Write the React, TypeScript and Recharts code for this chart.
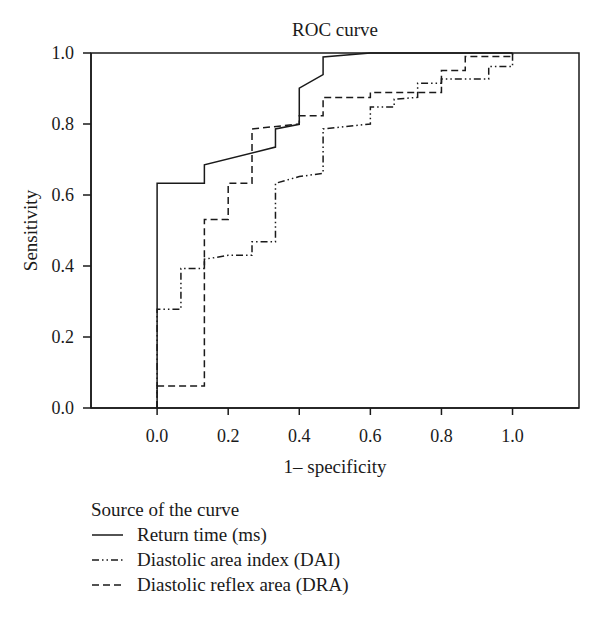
import { LineChart, Line, XAxis, YAxis, ReferenceArea } from "recharts"

document.body.style.margin = "0"

type Pt = { x: number; y: number }

const xTicks = [0, 0.2, 0.4, 0.6, 0.8, 1.0]
const yTicks = [0, 0.2, 0.4, 0.6, 0.8, 1.0]

const returnTime: Pt[] = [
	{ x: 0, y: 0 },
	{ x: 0, y: 0.633 },
	{ x: 0.133, y: 0.633 },
	{ x: 0.133, y: 0.685 },
	{ x: 0.333, y: 0.735 },
	{ x: 0.333, y: 0.786 },
	{ x: 0.4, y: 0.799 },
	{ x: 0.4, y: 0.901 },
	{ x: 0.467, y: 0.939 },
	{ x: 0.467, y: 0.989 },
	{ x: 0.6, y: 1.0 },
	{ x: 1.0, y: 1.0 },
]

const dai: Pt[] = [
	{ x: 0, y: 0 },
	{ x: 0, y: 0.278 },
	{ x: 0.067, y: 0.278 },
	{ x: 0.067, y: 0.393 },
	{ x: 0.133, y: 0.393 },
	{ x: 0.133, y: 0.419 },
	{ x: 0.2, y: 0.43 },
	{ x: 0.267, y: 0.43 },
	{ x: 0.267, y: 0.468 },
	{ x: 0.333, y: 0.468 },
	{ x: 0.333, y: 0.633 },
	{ x: 0.4, y: 0.652 },
	{ x: 0.467, y: 0.661 },
	{ x: 0.467, y: 0.786 },
	{ x: 0.6, y: 0.8 },
	{ x: 0.6, y: 0.848 },
	{ x: 0.667, y: 0.848 },
	{ x: 0.667, y: 0.87 },
	{ x: 0.733, y: 0.875 },
	{ x: 0.733, y: 0.915 },
	{ x: 0.8, y: 0.915 },
	{ x: 0.8, y: 0.927 },
	{ x: 0.933, y: 0.927 },
	{ x: 0.933, y: 0.962 },
	{ x: 1.0, y: 0.962 },
	{ x: 1.0, y: 1.0 },
]

const dra: Pt[] = [
	{ x: 0, y: 0 },
	{ x: 0, y: 0.062 },
	{ x: 0.133, y: 0.062 },
	{ x: 0.133, y: 0.531 },
	{ x: 0.2, y: 0.531 },
	{ x: 0.2, y: 0.633 },
	{ x: 0.267, y: 0.633 },
	{ x: 0.267, y: 0.786 },
	{ x: 0.4, y: 0.8 },
	{ x: 0.4, y: 0.823 },
	{ x: 0.467, y: 0.823 },
	{ x: 0.467, y: 0.875 },
	{ x: 0.6, y: 0.875 },
	{ x: 0.6, y: 0.889 },
	{ x: 0.8, y: 0.889 },
	{ x: 0.8, y: 0.951 },
	{ x: 0.867, y: 0.951 },
	{ x: 0.867, y: 0.99 },
	{ x: 1.0, y: 0.99 },
	{ x: 1.0, y: 1.0 },
]

const series = [
	{ name: "Return time (ms)", data: returnTime, dash: undefined },
	{ name: "Diastolic area index (DAI)", data: dai, dash: "7 3 1.5 3 1.5 3" },
	{ name: "Diastolic reflex area (DRA)", data: dra, dash: "7 4" },
]

const FONT = "'Liberation Serif', serif"
const INK = "#1a1a1a"
const tickStyle = { fontFamily: FONT, fontSize: 18, fill: INK }

const App = () => {
	return (
		<div style={{ position: "relative", width: 600, height: 618, fontFamily: FONT, color: INK, background: "#fff" }}>
			<div style={{ position: "absolute", left: 235, width: 200, top: 18, textAlign: "center", fontSize: 19, lineHeight: "24px" }}>
				ROC curve
			</div>
			<LineChart width={600} height={618} margin={{ top: 53, right: 21, bottom: 140, left: 0 }}>
				<XAxis
					type="number"
					dataKey="x"
					domain={[-0.186, 1.187]}
					ticks={xTicks}
					tickFormatter={(v: number) => v.toFixed(1)}
					tick={tickStyle}
					tickSize={7}
					tickMargin={14}
					height={70}
					stroke={INK}
					strokeWidth={1.5}
					label={{ value: "1– specificity", position: "insideBottom", offset: 5, style: { fontFamily: FONT, fontSize: 19, fill: INK } }}
				/>
				<YAxis
					type="number"
					domain={[0, 1]}
					ticks={yTicks}
					tickFormatter={(v: number) => v.toFixed(1)}
					tick={tickStyle}
					tickSize={8}
					tickMargin={9}
					width={91}
					stroke={INK}
					strokeWidth={1.5}
					label={{ value: "Sensitivity", angle: -90, position: "insideLeft", offset: 30, style: { fontFamily: FONT, fontSize: 19, fill: INK, textAnchor: "middle" } }}
				/>
				<ReferenceArea x1={-0.186} x2={1.187} y1={0} y2={1} fill="none" stroke={INK} strokeWidth={1.5} ifOverflow="extendDomain" />
				{series.map((s) => (
					<Line
						key={s.name}
						data={s.data}
						dataKey="y"
						type="linear"
						stroke={INK}
						strokeWidth={1.5}
						strokeDasharray={s.dash}
						dot={false}
						isAnimationActive={false}
					/>
				))}
			</LineChart>
			<div style={{ position: "absolute", left: 91, top: 497, fontSize: 19, lineHeight: "25px" }}>
				<div>Source of the curve</div>
				{series.map((s) => (
					<div key={s.name} style={{ display: "flex", alignItems: "center" }}>
						<svg width={46} height={25}>
							<line x1={1} x2={32} y1={13} y2={13} stroke={INK} strokeWidth={1.5} strokeDasharray={s.dash} />
						</svg>
						<span>{s.name}</span>
					</div>
				))}
			</div>
		</div>
	)
}

export default App
